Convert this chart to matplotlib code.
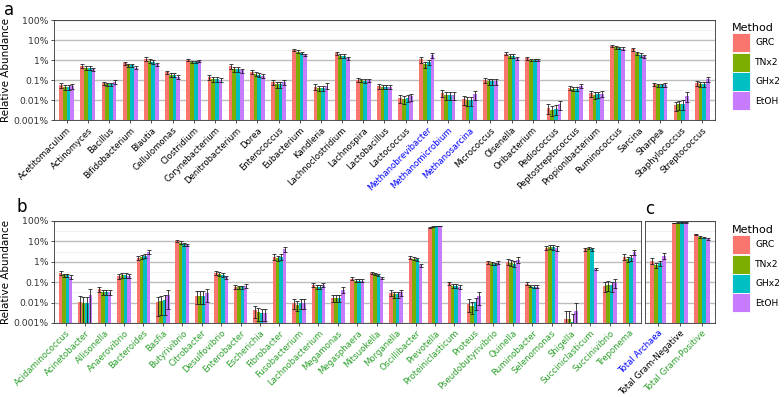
import numpy as np
from matplotlib import pyplot as plt
from matplotlib.patches import Patch

methods = ['GRC', 'TNx2', 'GHx2', 'EtOH']
colors = ['#F8766D', '#7CAE00', '#00BFC4', '#C77CFF']
green = '#2ca02c'
blue = '#0000FF'

# panel a
genera_a = ['Acetitomaculum', 'Actinomyces', 'Bacillus', 'Bifidobacterium', 'Blautia',
            'Cellulomonas', 'Clostridium', 'Corynebacterium', 'Denitrobacterium', 'Dorea',
            'Enterococcus', 'Eubacterium', 'Kandleria', 'Lachnoclostridium', 'Lachnospira',
            'Lactobacillus', 'Lactococcus', 'Methanobrevibacter', 'Methanomicrobium',
            'Methanosarcina', 'Micrococcus', 'Olsenella', 'Oribacterium', 'Pediococcus',
            'Peptostreptococcus', 'Propionibacterium', 'Ruminococcus', 'Sarcina', 'Sharpea',
            'Staphylococcus', 'Streptococcus']
grc_a = [0.054, 0.5, 0.07, 0.7, 1.15, 0.24, 1.0, 0.14, 0.5, 0.26, 0.076, 3.2, 0.046, 2.2, 0.1,
         0.048, 0.012, 1.07, 0.023, 0.0107, 0.1, 2.1, 1.2, 0.004, 0.04, 0.022, 5.0, 3.4, 0.06,
         0.0056, 0.07]
tnx_a = [0.045, 0.4, 0.06, 0.55, 0.89, 0.18, 0.8, 0.11, 0.35, 0.2, 0.06, 2.6, 0.04, 1.6, 0.095,
         0.045, 0.011, 0.6, 0.017, 0.0095, 0.085, 1.6, 1.0, 0.0033, 0.036, 0.018, 4.3, 2.2, 0.055,
         0.006, 0.06]
ghx_a = [0.045, 0.4, 0.06, 0.55, 0.8, 0.18, 0.8, 0.11, 0.35, 0.18, 0.06, 2.3, 0.04, 1.6, 0.09,
         0.045, 0.013, 0.8, 0.017, 0.0095, 0.085, 1.6, 1.0, 0.0037, 0.036, 0.019, 4.0, 1.8, 0.055,
         0.0063, 0.06]
etoh_a = [0.05, 0.35, 0.08, 0.42, 0.6, 0.14, 0.9, 0.10, 0.3, 0.16, 0.08, 1.8, 0.053, 1.2, 0.095,
          0.047, 0.015, 1.8, 0.017, 0.019, 0.085, 1.2, 1.0, 0.006, 0.053, 0.021, 3.7, 1.5, 0.057,
          0.016, 0.11]
err_a = [0.3, 0.2, 0.2, 0.2, 0.2, 0.2, 0.15, 0.25, 0.25, 0.2, 0.3, 0.15, 0.3, 0.2, 0.2, 0.25,
         0.4, 0.3, 0.4, 0.5, 0.3, 0.2, 0.15, 0.5, 0.25, 0.35, 0.15, 0.2, 0.2, 0.5, 0.25]
archaea = ['Methanobrevibacter', 'Methanomicrobium', 'Methanosarcina']

# panel b
genera_b = ['Acidaminococcus', 'Acinetobacter', 'Allisonella', 'Anaerovibrio', 'Bacteroides',
            'Basfia', 'Butyrivibrio', 'Citrobacter', 'Desulfovibrio', 'Enterobacter',
            'Escherichia', 'Fibrobacter', 'Fusobacterium', 'Lachnobacterium', 'Megamonas',
            'Megasphaera', 'Mitsuokella', 'Morganella', 'Oscillibacter', 'Prevotella',
            'Proteiniclasticum', 'Proteus', 'Pseudobutyrivibrio', 'Quinella', 'Ruminobacter',
            'Selenomonas', 'Shigella', 'Succiniclasticum', 'Succinivibrio', 'Treponema']
grc_b = [0.28, 0.011, 0.046, 0.2, 1.6, 0.011, 10.5, 0.022, 0.28, 0.06, 0.0045, 1.8, 0.0095,
         0.072, 0.017, 0.15, 0.28, 0.031, 1.6, 47, 0.089, 0.009, 0.95, 1.0, 0.085, 5.0, 0.0016,
         4.2, 0.065, 1.8]
tnx_b = [0.22, 0.0099, 0.033, 0.22, 1.8, 0.012, 8.7, 0.022, 0.25, 0.055, 0.0033, 1.5, 0.008,
         0.06, 0.017, 0.12, 0.25, 0.025, 1.45, 53, 0.068, 0.007, 0.85, 0.9, 0.065, 5.4, 0.0015,
         4.8, 0.075, 1.34]
ghx_b = [0.22, 0.0099, 0.033, 0.22, 1.9, 0.013, 7.4, 0.022, 0.23, 0.055, 0.003, 1.8, 0.01,
         0.06, 0.017, 0.12, 0.23, 0.025, 1.35, 57, 0.068, 0.011, 0.8, 0.8, 0.06, 5.2, 0.0011,
         4.2, 0.07, 1.6]
etoh_b = [0.18, 0.024, 0.033, 0.21, 3.05, 0.024, 6.7, 0.028, 0.17, 0.065, 0.003, 4.1, 0.01,
          0.075, 0.043, 0.12, 0.16, 0.032, 0.66, 57, 0.06, 0.02, 0.9, 1.25, 0.06, 4.5, 0.004,
          0.45, 0.1, 3.05]
err_b = [0.2, 1.0, 0.3, 0.25, 0.2, 0.8, 0.15, 0.6, 0.2, 0.2, 0.6, 0.3, 0.5, 0.2, 0.35, 0.15,
         0.1, 0.35, 0.15, 0.05, 0.2, 0.6, 0.15, 0.3, 0.15, 0.25, 1.5, 0.15, 0.5, 0.3]

# panel c
groups_c = ['Total Archaea', 'Total Gram-Negative', 'Total Gram-Positive']
grc_c = [1.15, 78, 22.4]
tnx_c = [0.71, 84, 16.5]
ghx_c = [0.85, 86, 15.4]
etoh_c = [2.0, 86, 13.2]
err_c = [0.3, 0.03, 0.08]
colors_c = [blue, 'black', green]

yticks = [0.001, 0.01, 0.1, 1, 10, 100]
yticklabels = ['0.001%', '0.01%', '0.1%', '1%', '10%', '100%']


def draw(ax, names, series, rel, label_colors, ylabel=True):
    x = np.arange(len(names))
    w = 0.7 / 4
    rel = np.array(rel)
    for i, (vals, c) in enumerate(zip(series, colors)):
        v = np.array(vals)
        xs = x - 0.35 + w * (i + 0.5)
        ax.bar(xs, v - 0.001, w, bottom=0.001, color=c, zorder=2)
        se = v * rel
        lo = np.minimum(se, v - 1e-4)
        ax.errorbar(xs, v, yerr=[lo, se], fmt='none', ecolor='#222222', elinewidth=0.6,
                    capsize=1.2, capthick=0.6, zorder=3)
    ax.set_yscale('log')
    ax.set_ylim(0.001, 100)
    ax.set_xlim(-0.6, len(names) - 0.4)
    ax.set_yticks(yticks)
    ax.set_yticklabels(yticklabels if ylabel else [], fontsize=6.7, color='#333333')
    ax.set_yticks([10 ** (k + 0.5) for k in range(-3, 2)], minor=True)
    ax.yaxis.set_minor_formatter(plt.NullFormatter())
    ax.grid(True, which='major', axis='y', color='#BDBDBD', lw=1.0, zorder=0)
    ax.grid(True, which='minor', axis='y', color='#EBEBEB', lw=0.5, zorder=0)
    ax.set_axisbelow(True)
    ax.set_xticks(x)
    ax.set_xticklabels(names, rotation=45, ha='right', rotation_mode='anchor', fontsize=6.1)
    for t, c in zip(ax.get_xticklabels(), label_colors):
        t.set_color(c)
    ax.tick_params(axis='both', which='major', length=2.5, width=0.6, color='#333333', pad=1.5)
    ax.tick_params(axis='y', which='minor', length=0)
    for s in ax.spines.values():
        s.set_color('#333333')
        s.set_linewidth(0.6)
    if ylabel:
        ax.set_ylabel('Relative Abundance', fontsize=7.5, labelpad=2)


fig = plt.figure(figsize=(7.84, 3.97), dpi=100)
H = 397.0
W = 784.0
ax_a = fig.add_axes([54 / W, 1 - 120 / H, 661 / W, 100 / H])
ax_b = fig.add_axes([54 / W, 1 - 323 / H, 587 / W, 102 / H])
ax_c = fig.add_axes([645 / W, 1 - 323 / H, 70 / W, 102 / H])

draw(ax_a, genera_a, [grc_a, tnx_a, ghx_a, etoh_a], err_a,
     [blue if g in archaea else 'black' for g in genera_a])
draw(ax_b, genera_b, [grc_b, tnx_b, ghx_b, etoh_b], err_b, [green] * len(genera_b))
draw(ax_c, groups_c, [grc_c, tnx_c, ghx_c, etoh_c], err_c, colors_c, ylabel=False)
ax_c.tick_params(axis='y', length=0)

fig.text(4 / W, 1 - 1 / H, 'a', fontsize=12, va='top')
fig.text(17 / W, 1 - 198 / H, 'b', fontsize=12, va='top')
fig.text(645 / W, 1 - 200 / H, 'c', fontsize=12, va='top')

handles = [Patch(facecolor=c, edgecolor='white', linewidth=0.6) for c in colors]
for ytop in (20, 222):
    fig.legend(handles, methods, loc='upper left', bbox_to_anchor=(729 / W, 1 - ytop / H),
               title='Method', frameon=False, fontsize=6.6, title_fontsize=8,
               handlelength=1.95, handleheight=2.8, labelspacing=0.05, handletextpad=0.6,
               borderaxespad=0, borderpad=0.3, alignment='left')

plt.savefig('out.png', dpi=100)
